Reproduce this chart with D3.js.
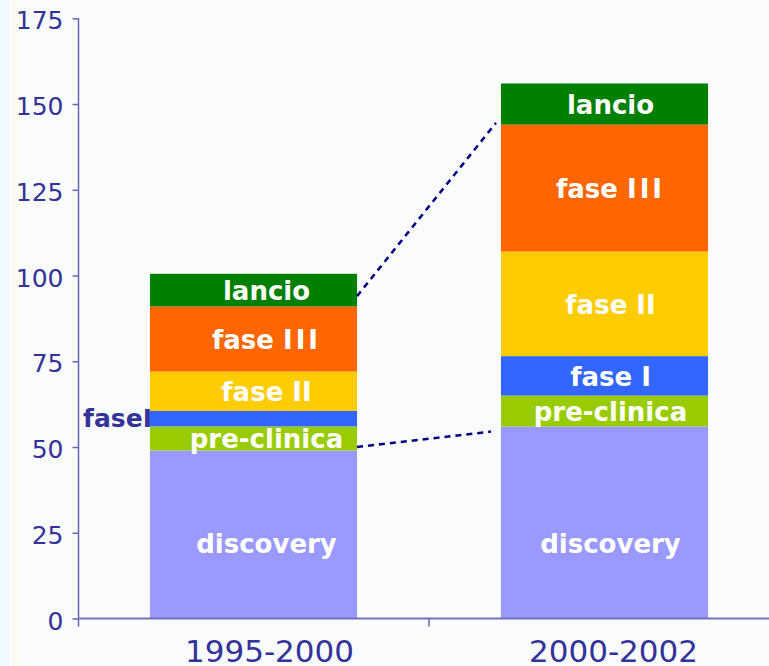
<!DOCTYPE html>
<html>
<head>
<meta charset="utf-8">
<script src="https://cdn.jsdelivr.net/npm/d3@7"></script>
<style>
  body { margin: 0; background: #f9fbfd; }
  text { font-family: "DejaVu Sans", sans-serif; }
</style>
</head>
<body>
<div id="chart"></div>
<script>
// Data
const categories = ["1995-2000", "2000-2002"];
const phases = ["discovery", "pre-clinica", "fase I", "fase II", "fase III", "lancio"];
const discovery = [49, 56];
const preclinica = [7, 9];
const faseI = [4.5, 11.5];
const faseII = [11.5, 30.5];
const faseIII = [19, 37];
const lancio = [9.5, 12];
const yTicks = [0, 25, 50, 75, 100, 125, 150, 175];
// dashed connectors: value at bar 1 right edge -> value at bar 2 left edge
const connectorFrom = [94, 50];
const connectorTo = [144.5, 54.5];

const colors = {
  "discovery": "#9999ff",
  "pre-clinica": "#99cc00",
  "fase I": "#3366ff",
  "fase II": "#ffcc00",
  "fase III": "#ff6600",
  "lancio": "#008000"
};
const labelShift = [13, 6];
const axisColor = "#6666b3";
const textColor = "#333399";

const width = 769, height = 666;

// Build rows for d3.stack
const seriesValues = [discovery, preclinica, faseI, faseII, faseIII, lancio];
const table = categories.map((c, i) => {
  const row = { category: c };
  phases.forEach((p, k) => row[p] = seriesValues[k][i]);
  return row;
});

const svg = d3.select("#chart")
  .append("svg")
  .attr("width", width)
  .attr("height", height);

// light strip at the left edge
svg.append("rect").attr("x", 0).attr("y", 0).attr("width", 9).attr("height", height).attr("fill", "#eefaff");
svg.append("rect").attr("x", 9).attr("y", 0).attr("width", 13).attr("height", height).attr("fill", "#fbfcf4");

const x = d3.scaleBand()
  .domain(categories)
  .range([78, 780])
  .paddingInner(0.41)
  .paddingOuter(0.205);

const y = d3.scaleLinear()
  .domain([0, 175])
  .range([618.5, 18.3]);

const stacked = d3.stack().keys(phases)(table);

// Bars
const layers = svg.selectAll(".layer")
  .data(stacked)
  .enter()
  .append("g")
  .attr("class", "layer")
  .attr("fill", d => colors[d.key]);

layers.selectAll("rect")
  .data(d => d)
  .enter()
  .append("rect")
  .attr("x", d => x(d.data.category))
  .attr("y", d => y(d[1]))
  .attr("width", x.bandwidth())
  .attr("height", d => y(d[0]) - y(d[1]));

// Labels inside segments
stacked.forEach(layer => {
  layer.forEach((d, i) => {
    const key = layer.key;
    const cx = x(d.data.category) + x.bandwidth() / 2 + labelShift[i];
    const mid = (y(d[0]) + y(d[1])) / 2;
    if (key === "fase I" && i === 0) {
      // too thin: label drawn outside to the left
      svg.append("text")
        .attr("x", x(d.data.category) + 2)
        .attr("y", mid + 8)
        .attr("text-anchor", "end")
        .attr("font-size", 25)
        .attr("font-weight", "bold")
        .attr("fill", textColor)
        .text("faseI");
      return;
    }
    const ty = key === "discovery" ? y(19) : mid + 10;
    const t = svg.append("text")
      .attr("x", cx)
      .attr("y", ty)
      .attr("text-anchor", "middle")
      .attr("font-size", 26)
      .attr("font-weight", "bold")
      .attr("fill", "#ffffff");
    if (key === "fase III") {
      t.append("tspan").text("fase ");
      t.append("tspan").attr("letter-spacing", 3).text("III");
    } else {
      t.text(key);
    }
  });
});

// Dashed connectors
connectorFrom.forEach((v, k) => {
  const x1 = x(categories[0]) + x.bandwidth();
  const x2 = x(categories[1]) - (k === 0 ? 5 : 10);
  svg.append("line")
    .attr("x1", x1)
    .attr("y1", y(v))
    .attr("x2", x2)
    .attr("y2", y(connectorTo[k]))
    .attr("stroke", "#000080")
    .attr("stroke-width", 2.5)
    .attr("stroke-dasharray", "6,5");
});

// Y axis
const yAxis = svg.append("g")
  .attr("transform", "translate(78.5,0)")
  .call(d3.axisLeft(y).tickValues(yTicks).tickSize(6).tickPadding(9));
yAxis.select(".domain").remove();
yAxis.selectAll(".tick line").attr("stroke", axisColor).attr("stroke-width", 1.5);
yAxis.selectAll(".tick text")
  .attr("font-size", 25)
  .attr("font-family", "DejaVu Sans")
  .attr("fill", textColor)
  .attr("dy", "0.42em");
svg.append("line")
  .attr("x1", 78.5).attr("x2", 78.5)
  .attr("y1", y(175)).attr("y2", y(0) + 8)
  .attr("stroke", axisColor).attr("stroke-width", 1.5);

// X axis
svg.append("line")
  .attr("x1", 78).attr("x2", width)
  .attr("y1", y(0)).attr("y2", y(0))
  .attr("stroke", "#7272ba").attr("stroke-width", 2);
// ticks between categories
svg.append("line")
  .attr("x1", 78 + x.step()).attr("x2", 78 + x.step())
  .attr("y1", y(0)).attr("y2", y(0) + 8)
  .attr("stroke", axisColor).attr("stroke-width", 1.5);

svg.selectAll(".xlabel")
  .data(categories)
  .enter()
  .append("text")
  .attr("class", "xlabel")
  .attr("x", (d, i) => x(d) + x.bandwidth() / 2 + labelShift[i] + 3)
  .attr("y", 662)
  .attr("text-anchor", "middle")
  .attr("font-size", 31)
  .attr("fill", textColor)
  .text(d => d);
</script>
</body>
</html>
